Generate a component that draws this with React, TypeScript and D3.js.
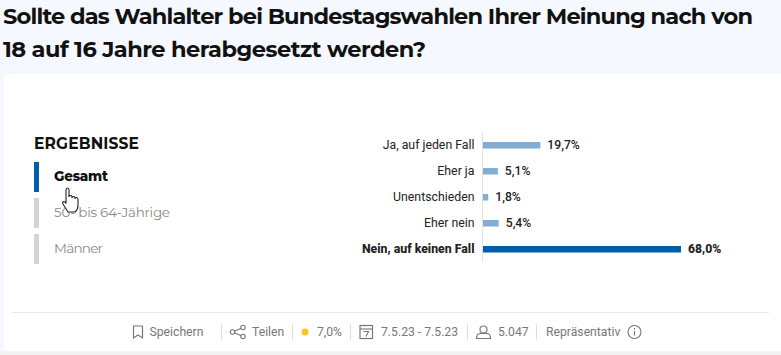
import React from "react";
import * as d3 from "d3";

const titleLines = ["Sollte das Wahlalter bei Bundestagswahlen Ihrer Meinung nach von", "18 auf 16 Jahre herabgesetzt werden?"];
const categories = ["Ja, auf jeden Fall", "Eher ja", "Unentschieden", "Eher nein", "Nein, auf keinen Fall"];
const values = [19.7, 5.1, 1.8, 5.4, 68.0];
const valueLabels = ["19,7%", "5,1%", "1,8%", "5,4%", "68,0%"];
const highlighted = ["Nein, auf keinen Fall"];
const tabs = ["Gesamt", "50- bis 64-Jährige", "Männer"];

const W = 781, H = 355;
const HEAD = "Montserrat, Inter, 'Open Sans', sans-serif";
const BODY = "Roboto, sans-serif";
const x = d3.scaleLinear().domain([0, 68]).range([483, 681]);
const y = d3.scalePoint<string>().domain(categories).range([145, 249]);
const GREY = "#777";

export default function App() {
  return (
    <svg width={W} height={H} viewBox={`0 0 ${W} ${H}`} style={{ position: "absolute", left: 0, top: 0, display: "block" }}>
      <rect width={W} height={H} fill="#f5f8fe" />
      <rect x={0} y={351} width={W} height={4} fill="#f3f3f3" />
      <rect x={4} y={74} width={W + 20} height={277} rx={5} fill="#fff" />

      <text x={3} y={24} fontFamily={HEAD} fontWeight={700} fontSize={22.5} fill="#111" textLength={750} lengthAdjust="spacing">{titleLines[0]}</text>
      <text x={3} y={57} fontFamily={HEAD} fontWeight={700} fontSize={22.5} fill="#111" textLength={423} lengthAdjust="spacing">{titleLines[1]}</text>

      <text x={34} y={149} fontFamily={HEAD} fontWeight={700} fontSize={15.5} fill="#111" textLength={105}>ERGEBNISSE</text>
      {tabs.map((t, i) => (
        <g key={t}>
          <rect x={34} y={162 + i * 36} width={5} height={30} fill={i === 0 ? "#005ea8" : "#d4d4d4"} />
          <text x={54} y={181 + i * 36} fontFamily={HEAD} fontWeight={i === 0 ? 800 : 400} fontSize={13.5} fill={i === 0 ? "#111" : "#8a8a8a"}
            textLength={i === 0 ? 54 : i === 1 ? 116 : 49}>{t}</text>
        </g>
      ))}

      <line x1={482.5} x2={482.5} y1={132} y2={262} stroke="#e2e2e2" />
      {categories.map((c, i) => {
        const hi = highlighted.includes(c);
        const yy = y(c)!;
        return (
          <g key={c}>
            <text x={474.5} y={yy + 4} textAnchor="end" fontFamily={BODY} fontSize={12.3} fontWeight={hi ? 800 : 400} fill="#222">{c}</text>
            <rect x={x(0)} y={yy - 3} width={x(values[i]) - x(0)} height={6.5} fill={hi ? "#005ea8" : "#82aed3"} />
            <text x={x(values[i]) + 7} y={yy + 4} fontFamily={BODY} fontSize={12.2} fontWeight={hi ? 800 : 500} fill="#222">{valueLabels[i]}</text>
          </g>
        );
      })}

      {/* hand cursor */}
      <path d="M66 190 q0-2 1.5-2 q1.500 0 1.500 2 v7 q0-1.500 1.500-1.500 q1.500 0 1.500 1.500 v1 q0-1.500 1.500-1.500 q1.500 0 1.500 1.500 v1 q0-1.500 1.500-1.500 q1.500 0 1.500 2 v6 q0 4-3 6.500 h-7 q-2-3-5-8 q-1-2 .5-2.500 q1.500 0 2.500 2 z"
        fill="#fff" stroke="#222" strokeWidth={1.1} />

      {/* footer */}
      <line x1={12} x2={769} y1={312.5} y2={312.5} stroke="#e6e6e6" />
      <g fontFamily={BODY} fontSize={12.2} fill={GREY}>
        <path d="M133.500 326 h9 v12 l-4.500-3 l-4.500 3 z" fill="none" stroke={GREY} strokeWidth={1.2} />
        <text x={149.500} y={336}>Speichern</text>
        <text x={252} y={336}>Teilen</text>
        <text x={317} y={336}>7,0%</text>
        <text x={381} y={336}>7.5.23 - 7.5.23</text>
        <text x={498} y={336}>5.047</text>
        <text x={546} y={336}>Repräsentativ</text>
      </g>
      {[221.5, 292.5, 350.5, 467.5, 536.5].map((sx) => <line key={sx} x1={sx} x2={sx} y1={324} y2={340} stroke="#ddd" />)}
      <g fill="none" stroke={GREY} strokeWidth={1.1}>
        <path d="M232.500 332 L243 327.500 M232.500 332 L243 336.500" />
        <circle cx={232.500} cy={332} r={2.200} fill="#fff" /><circle cx={243} cy={327.500} r={2.200} fill="#fff" /><circle cx={243} cy={336.500} r={2.200} fill="#fff" />
        <rect x={360} y={325.500} width={12.500} height={13} strokeWidth={1.2} />
        <path d="M360 329 h12.500" />
        <path d="M363.500 331.500 h5 l-2.500 5" />
        <circle cx={483.500} cy={329.500} r={3.500} strokeWidth={1.2} />
        <path d="M476.500 338.500 q0-5 4-5 h6 q4 0 4 5 z" strokeWidth={1.2} />
        <circle cx={634.500} cy={332} r={6.500} strokeWidth={1.1} />
        <path d="M634.500 331 v4.500 M634.500 328 v1.500" strokeWidth={1.2} />
      </g>
      <circle cx={305} cy={332} r={3.500} fill="#fdc521" />
    </svg>
  );
}
